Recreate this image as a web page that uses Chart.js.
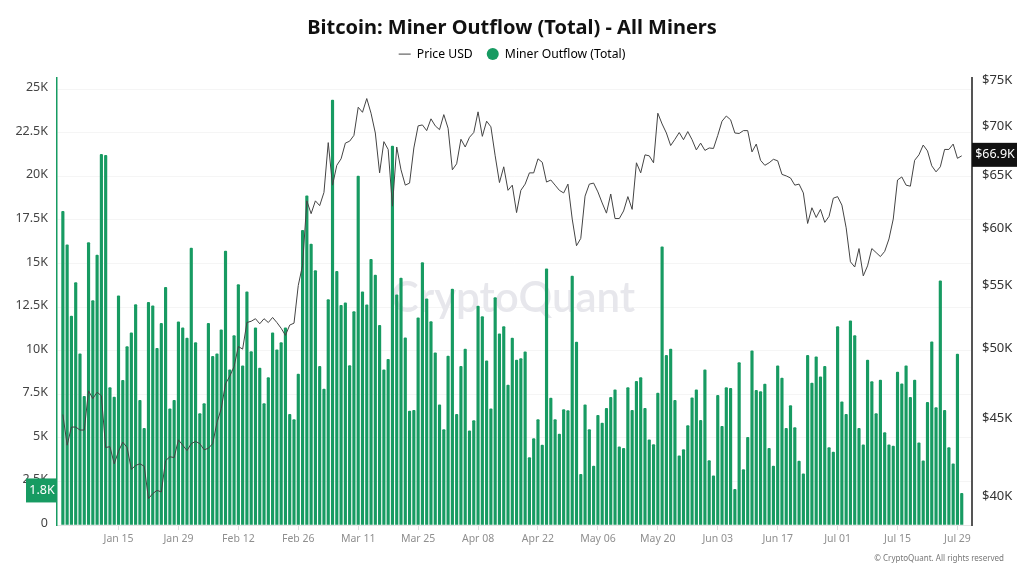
<!DOCTYPE html>
<html>
<head>
<meta charset="utf-8">
<title>Bitcoin: Miner Outflow (Total) - All Miners</title>
<script src="https://cdn.jsdelivr.net/npm/chart.js@4/dist/chart.umd.min.js"></script>
<style>
  html, body { margin: 0; background: #fff; }
  canvas { display: block; }
</style>
</head>
<body>
<canvas id="chart" width="1024" height="572"></canvas>
<script>
// daily values from Jan 02 to Jul 30, in thousands
const outflowK = [
  18.0,16.07,11.98,13.9,9.82,7.38,16.2,12.87,15.48,21.26,21.2,7.88,7.34,13.14,8.3,10.24,11.02,12.64,7.15,5.55,
  12.78,12.57,10.13,11.57,13.63,6.67,7.15,11.65,11.31,10.72,15.88,10.47,6.39,6.96,11.57,9.67,9.82,11.19,15.71,8.9,
  10.87,13.79,9.13,13.37,9.95,11.31,9.0,6.96,8.45,11.02,10.05,10.47,11.31,6.35,6.05,8.66,16.91,18.88,16.11,14.59,
  9.1,7.8,12.93,24.37,14.55,12.6,12.74,9.15,12.24,20.02,13.37,12.63,15.24,14.34,11.46,8.9,9.5,21.74,13.2,14.17,
  10.74,6.54,6.58,11.88,15.06,12.97,11.67,9.88,6.9,5.47,9.69,13.54,6.35,9.1,10.09,5.4,5.99,12.56,11.96,9.42,
  6.67,13.04,10.96,11.38,8.03,10.72,9.46,9.55,9.94,3.87,4.96,6.05,4.58,14.7,7.28,6.05,5.21,6.62,6.56,14.28,
  10.49,2.9,6.9,5.47,3.38,6.29,5.85,6.69,7.32,7.76,4.48,4.4,7.88,6.58,8.24,8.45,6.69,4.88,4.61,7.57,
  15.96,9.73,10.09,7.15,3.97,4.33,5.7,7.3,7.76,6.0,8.9,3.7,2.82,7.44,5.66,7.88,7.84,2.04,9.31,3.18,
  5.03,9.99,7.72,7.65,8.09,4.4,3.38,9.13,8.43,5.55,6.85,5.59,3.66,2.94,9.73,8.14,9.65,8.5,9.1,4.44,
  4.18,11.38,7.07,6.35,11.71,10.87,5.55,4.6,9.46,8.22,6.39,8.31,5.3,4.6,4.52,8.77,8.1,9.13,7.32,8.31,
  4.71,3.68,7.04,10.51,6.73,14.0,6.58,4.44,3.51,9.8,1.81
];
const priceK = [
  45.25,43.2,44.4,44.4,44.2,44.2,46.9,46.35,46.8,46.55,43.05,43.1,42.0,42.8,43.4,43.05,41.65,41.9,42.0,41.85,
  39.85,40.15,40.35,40.25,42.2,42.45,42.4,43.55,43.2,42.85,43.3,43.45,43.3,42.9,43.0,43.3,44.7,45.65,47.4,47.95,
  48.65,50.15,49.95,52.0,52.1,52.3,51.9,52.3,52.0,52.4,52.0,51.55,51.0,51.8,51.95,55.0,56.7,62.5,61.3,62.5,
  62.05,63.3,68.25,64.0,65.95,66.6,68.2,68.4,69.0,72.0,71.45,72.95,71.35,69.25,65.2,68.35,67.55,62.0,67.8,65.5,
  64.0,64.2,67.7,70.0,70.1,69.5,70.75,70.0,69.6,71.2,69.75,65.5,66.1,68.6,67.8,68.8,69.3,71.5,68.9,70.5,
  69.9,66.9,64.25,65.8,63.5,64.0,61.4,63.5,64.1,65.2,65.2,66.6,66.25,64.3,64.5,64.0,63.5,63.25,64.1,60.8,
  58.4,59.05,62.95,64.1,64.2,63.35,62.3,61.35,63.15,60.85,60.85,61.55,62.9,61.7,66.2,65.2,67.0,66.9,66.2,71.35,
  70.2,69.25,67.95,68.6,69.3,68.55,69.4,68.55,67.5,68.2,67.45,67.7,67.65,69.0,70.5,71.05,70.65,69.25,69.2,69.5,
  69.5,67.3,68.1,66.45,65.95,66.2,66.55,66.4,65.05,64.9,64.7,64.0,64.1,63.25,60.4,61.85,60.95,61.7,60.5,61.05,
  62.75,62.9,62.1,60.0,57.0,56.55,58.15,55.8,56.65,58.15,57.8,57.45,57.9,59.0,60.8,64.5,64.8,64.0,63.9,66.45,
  67.0,68.0,67.4,65.9,65.3,65.8,67.55,67.55,68.1,66.65,66.9
];

// x positions are days since Jan 01
const xTickDays = [14,28,42,56,70,84,98,112,126,140,154,168,182,196,210];
const xTickLabels = ["Jan 15","Jan 29","Feb 12","Feb 26","Mar 11","Mar 25","Apr 08","Apr 22","May 06","May 20","Jun 03","Jun 17","Jul 01","Jul 15","Jul 29"];
const outflowTicks = [0,2500,5000,7500,10000,12500,15000,17500,20000,22500,25000];
const priceTicks = [40000,45000,50000,55000,60000,65000,70000,75000];

const GREEN = "#179b62";
const FONT = "'Noto Sans', 'Open Sans', sans-serif";

function kLabel(v) {
	return v == 0 ? "0" : (v / 1000) + "K";
}

const extras = {
	id: "extras",
	afterInit(chart) {
		// extra gap under the legend, down to the top of the plot
		const legendFit = chart.legend.fit;
		chart.legend.fit = function() {
			legendFit.call(this);
			this.height += 8;
		};
	},
	beforeDatasetsDraw(chart) {
		const ctx = chart.ctx;
		ctx.save();
		ctx.fillStyle = "#e7e7ec";
		ctx.font = "600 42px Lato, sans-serif";
		ctx.textAlign = "center";
		ctx.textBaseline = "middle";
		ctx.fillText("CryptoQuant", 513, 298);
		ctx.restore();
	},
	afterDraw(chart) {
		const ctx = chart.ctx;
		ctx.save();
		ctx.textBaseline = "middle";
		ctx.textAlign = "center";
		ctx.font = "12.5px " + FONT;

		// last value tags
		const lastOut = outflowK[outflowK.length - 1] * 1000;
		const lastPrice = priceK[priceK.length - 1] * 1000;
		const yl = chart.scales.y.getPixelForValue(lastOut) - 3;
		ctx.fillStyle = GREEN;
		ctx.fillRect(26, yl - 12, 31, 24);
		ctx.fillStyle = "#fff";
		ctx.fillText((lastOut / 1000).toFixed(1) + "K", 42, yl);

		const yr = chart.scales.y1.getPixelForValue(lastPrice) - 1;
		ctx.fillStyle = "#111";
		ctx.fillRect(972, yr - 12, 45, 24);
		ctx.fillStyle = "#fff";
		ctx.fillText("$" + (lastPrice / 1000).toFixed(1) + "K", 995, yr);

		ctx.fillStyle = "#777";
		ctx.font = "8px " + FONT;
		ctx.textAlign = "right";
		ctx.fillText("© CryptoQuant. All rights reserved", 1004, 559);
		ctx.restore();
	}
};

new Chart(document.getElementById("chart"), {
	type: "bar",
	data: {
		datasets: [
			{
				type: "line",
				label: "Price USD",
				yAxisID: "y1",
				order: 0,
				data: priceK.map((v, i) => ({ x: i + 1, y: v * 1000 })),
				borderColor: "#444",
				borderWidth: 1,
				pointRadius: 0,
				tension: 0
			},
			{
				label: "Miner Outflow (Total)",
				yAxisID: "y",
				order: 1,
				data: outflowK.map((v, i) => ({ x: i + 1, y: v * 1000 })),
				backgroundColor: GREEN,
				barThickness: 2.5,
				borderRadius: { topLeft: 1, topRight: 1 }
			}
		]
	},
	options: {
		responsive: false,
		animation: false,
		layout: { padding: 0 },
		plugins: {
			tooltip: { enabled: false },
			title: {
				display: true,
				text: "Bitcoin: Miner Outflow (Total) - All Miners",
				color: "#111",
				font: { family: FONT, size: 20, weight: "bold" },
				padding: { top: 16, bottom: -6 }
			},
			legend: {
				display: true,
				onClick: null,
				labels: {
					usePointStyle: true,
					boxWidth: 12,
					boxHeight: 8.5,
					padding: 14,
					color: "#444",
					font: { family: FONT, size: 12.2 },
					generateLabels() {
						return [
							{ text: "Price USD", pointStyle: "line", strokeStyle: "#444", fillStyle: "#444", lineWidth: 1, datasetIndex: 0 },
							{ text: "Miner Outflow (Total)", pointStyle: "circle", strokeStyle: GREEN, fillStyle: GREEN, lineWidth: 0, datasetIndex: 1 }
						];
					}
				}
			}
		},
		scales: {
			x: {
				type: "linear",
				offset: false,
				min: -0.37,
				max: 213.4,
				afterBuildTicks(axis) { axis.ticks = xTickDays.map(v => ({ value: v })); },
				afterFit(axis) { axis.height = 47; },
				grid: { offset: false, drawOnChartArea: false, color: "#ddd", tickLength: 5 },
				border: { color: "#e4e4e4" },
				ticks: {
					autoSkip: false,
					maxRotation: 0,
					color: "#8f8f8f",
					padding: 3,
					font: { family: FONT, size: 10.5 },
					callback(v) { return xTickLabels[xTickDays.indexOf(v)]; }
				}
			},
			y: {
				position: "left",
				min: 0,
				max: 25630,
				afterBuildTicks(axis) { axis.ticks = outflowTicks.map(v => ({ value: v })); },
				afterFit(axis) { axis.width = 57; },
				grid: { color: "#f5f5f5", drawTicks: false },
				border: { color: GREEN, width: 1.5 },
				ticks: {
					autoSkip: false,
					color: "#444",
					padding: 9,
					labelOffset: -1.5,
					font: { family: FONT, size: 12.5 },
					callback: kLabel
				}
			},
			y1: {
				type: "logarithmic",
				position: "right",
				min: 38290,
				max: 75230,
				afterBuildTicks(axis) { axis.ticks = priceTicks.map(v => ({ value: v })); },
				afterFit(axis) { axis.width = 52; },
				grid: { drawOnChartArea: false, drawTicks: false },
				border: { color: "#555", width: 2 },
				ticks: {
					autoSkip: false,
					color: "#333",
					padding: 10,
					font: { family: FONT, size: 13 },
					callback(v) { return "$" + (v / 1000) + "K"; }
				}
			}
		}
	},
	plugins: [extras]
});
</script>
</body>
</html>
